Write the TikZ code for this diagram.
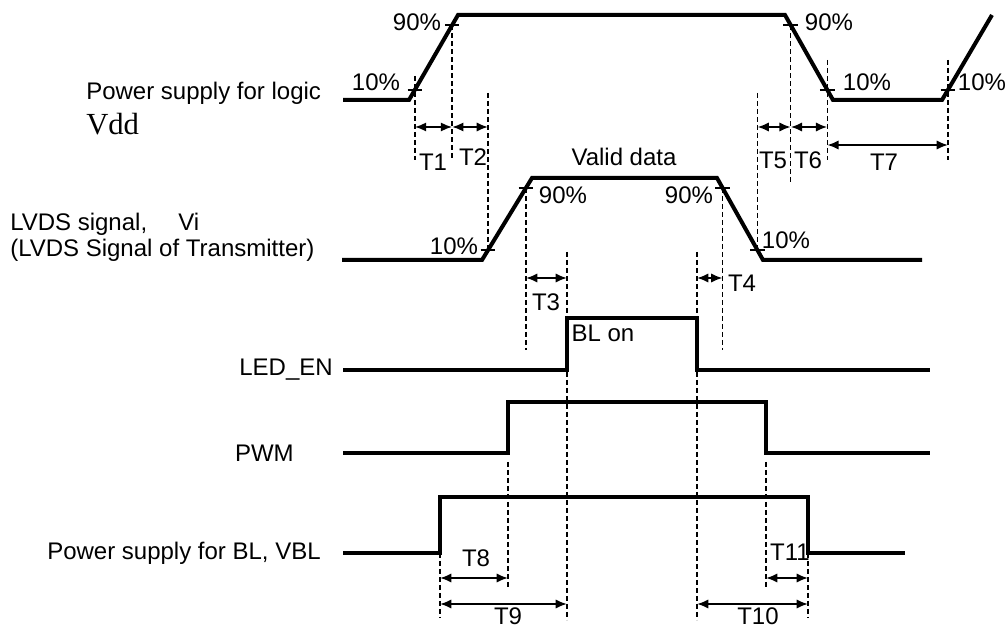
\documentclass[tikz,border=0pt]{standalone}
\usepackage{fontspec}
\setmainfont{Liberation Sans}
\newfontfamily\vddfont{Liberation Serif}
\usetikzlibrary{arrows.meta}

\begin{document}
\begin{tikzpicture}[x=0.75pt,y=-0.75pt,
	wave/.style={line width=3pt},
	tickmark/.style={line width=1.8pt},
	guide/.style={line width=1pt,dash pattern=on 3.75pt off 2.25pt},
	span/.style={line width=1.5pt,{Latex[length=8.5pt,width=7pt]}-{Latex[length=8.5pt,width=7pt]}},
	lbl/.style={inner sep=0pt,font=\fontsize{18}{21}\selectfont}]
	\useasboundingbox (0,0) rectangle (1007,630);

	% signal names
	\node[lbl,anchor=west] (logic) at (86,93) {Power supply for logic};
	\node[lbl,anchor=west,font=\vddfont\fontsize{23}{25}\selectfont] (vdd) at (86,124) {Vdd};
	\node[lbl,anchor=west] (lvds) at (10,224) {LVDS signal,\hspace{1.3em}Vi};
	\node[lbl,anchor=west] (trans) at (10,250) {(LVDS Signal of Transmitter)};
	\node[lbl,anchor=east] (leden) at (333,370) {LED\_EN};
	\node[lbl,anchor=east] (pwm) at (294,453) {PWM};
	\node[lbl,anchor=east] (vbl) at (321,553) {Power supply for BL, VBL};

	% Vdd
	\draw[wave] (343,100) -- (409,100)
		-- coordinate[pos=0.12] (v10a) coordinate[pos=0.88] (v90a) (458,15) -- (785,15)
		-- coordinate[pos=0.12] (v90b) coordinate[pos=0.88] (v10b) (833,100) -- (942,100)
		-- coordinate[pos=0.12] (v10c) (992,15);
	% LVDS
	\draw[wave] (342,260) -- (482,260)
		-- coordinate[pos=0.12] (l10a) coordinate[pos=0.88] (l90a) (532,178) -- (717,178)
		-- coordinate[pos=0.12] (l90b) coordinate[pos=0.88] (l10b) (763,260) -- (922,260);

	% guides
	\draw[guide] (v10a |- 0,76) -- (v10a |- 0,160);
	\draw[guide] (v90a) -- (v90a |- 0,160);
	\draw[guide] (l10a |- 0,93) -- (l10a);
	\draw[guide] (l10b |- 0,93) -- (l10b);
	\draw[guide] (v90b) -- (v90b |- 0,183);
	\draw[guide] (v10b |- 0,60) -- (v10b |- 0,160);
	\draw[guide] (v10c |- 0,60) -- (v10c |- 0,160);
	\draw[guide] (l90a) -- (l90a |- 0,350);
	\draw[guide] (l90b) -- (l90b |- 0,350);
	\draw[guide] (567,252) coordinate (le1) -- (567,620);
	\draw[guide] (697,252) coordinate (le2) -- (697,620);
	\draw[guide] (508,462) coordinate (pw1) -- (508,587);
	\draw[guide] (766,462) coordinate (pw2) -- (766,587);
	\draw[guide] (440,553) coordinate (bl1) -- (440,618);
	\draw[guide] (808,553) coordinate (bl2) -- (808,618);

	% LED_EN, PWM, VBL
	\draw[wave] (343,370) -- (le1 |- 0,370) -- (le1 |- 0,318) -- (le2 |- 0,318) -- (le2 |- 0,370) -- (930,370);
	\draw[wave] (343,453) -- (pw1 |- 0,453) -- (pw1 |- 0,402) -- (pw2 |- 0,402) -- (pw2 |- 0,453) -- (930,453);
	\draw[wave] (343,553) -- (bl1) -- (bl1 |- 0,497) -- (bl2 |- 0,497) -- (bl2) -- (905,553);

	% 10% / 90% marks
	\foreach \p in {v10a,v90a,v90b,v10b,v10c,l10a,l90a,l90b,l10b}
		\draw[tickmark] ([xshift=-5.5pt]\p) -- ([xshift=5.5pt]\p);

	% spans
	\draw[span] (v10a |- 0,127) -- (v90a |- 0,127);
	\draw[span] (v90a |- 0,127) -- (l10a |- 0,127);
	\draw[span] (l10b |- 0,127) -- (v90b |- 0,127);
	\draw[span] (v90b |- 0,127) -- (v10b |- 0,127);
	\draw[span] (v10b |- 0,145) -- (v10c |- 0,145);
	\draw[span] (l90a |- 0,278) -- (le1 |- 0,278);
	\draw[span] (le2 |- 0,278) -- (l90b |- 0,278);
	\draw[span] (bl1 |- 0,578) -- (pw1 |- 0,578);
	\draw[span] (bl1 |- 0,604) -- (le1 |- 0,604);
	\draw[span] (le2 |- 0,604) -- (bl2 |- 0,604);
	\draw[span] (pw2 |- 0,578) -- (bl2 |- 0,578);

	% levels
	\node[lbl] (p90a) at (417,22) {90\%};
	\node[lbl] (p10a) at (376,82) {10\%};
	\node[lbl] (p90b) at (829,22) {90\%};
	\node[lbl] (p10b) at (867,82) {10\%};
	\node[lbl] (p10c) at (982,82) {10\%};
	\node[lbl] (q10a) at (454,246) {10\%};
	\node[lbl] (q90a) at (563,195) {90\%};
	\node[lbl] (q90b) at (689,195) {90\%};
	\node[lbl] (q10b) at (786,240) {10\%};
	\node[lbl] (valid) at (624,157) {Valid data};
	\node[lbl] (blon) at (603,333) {BL on};

	% timing names
	\node[lbl] (t1) at (433,162) {T1};
	\node[lbl] (t2) at (473,157) {T2};
	\node[lbl] (t3) at (546,302) {T3};
	\node[lbl] (t4) at (742,283) {T4};
	\node[lbl] (t5) at (773,160) {T5};
	\node[lbl] (t6) at (808,160) {T6};
	\node[lbl] (t7) at (884,162) {T7};
	\node[lbl] (t8) at (476,558) {T8};
	\node[lbl] (t9) at (508,616) {T9};
	\node[lbl] (t10) at (758,616) {T10};
	\node[lbl] (t11) at (790,552) {T11};
\end{tikzpicture}
\end{document}
